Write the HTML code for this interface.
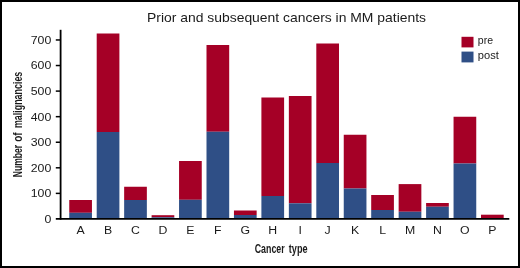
<!DOCTYPE html>
<html><head><meta charset="utf-8"><title>Prior and subsequent cancers in MM patients</title>
<style>
html,body{margin:0;padding:0;background:#fff;}
body{width:520px;height:268px;overflow:hidden;}
svg{display:block;font-family:"Liberation Sans",Arial,Helvetica,sans-serif;}
</style></head><body>
<svg width="520" height="268" viewBox="0 0 520 268">
<rect x="0" y="0" width="520" height="268" fill="#fff"/>
<rect x="1" y="1" width="518" height="266" fill="none" stroke="#000" stroke-width="2"/>
<text x="286.5" y="22.2" font-size="13" text-anchor="middle" fill="#1a1a1a" textLength="279" lengthAdjust="spacingAndGlyphs">Prior and subsequent cancers in MM patients</text>
<rect x="69.25" y="200" width="22.7" height="12.80" fill="#a50026"/><rect x="69.25" y="212.8" width="22.7" height="6.10" fill="#2f4f86"/><text transform="translate(80.60,233.7) scale(1.07,1)" font-size="11.5" text-anchor="middle" fill="#1a1a1a">A</text>
<rect x="96.70" y="33.5" width="22.7" height="98.50" fill="#a50026"/><rect x="96.70" y="132" width="22.7" height="86.90" fill="#2f4f86"/><text transform="translate(108.05,233.7) scale(1.07,1)" font-size="11.5" text-anchor="middle" fill="#1a1a1a">B</text>
<rect x="124.15" y="186.75" width="22.7" height="13.25" fill="#a50026"/><rect x="124.15" y="200" width="22.7" height="18.90" fill="#2f4f86"/><text transform="translate(135.50,233.7) scale(1.07,1)" font-size="11.5" text-anchor="middle" fill="#1a1a1a">C</text>
<rect x="151.60" y="215.2" width="22.7" height="2.10" fill="#a50026"/><rect x="151.60" y="217.3" width="22.7" height="1.60" fill="#2f4f86"/><text transform="translate(162.95,233.7) scale(1.07,1)" font-size="11.5" text-anchor="middle" fill="#1a1a1a">D</text>
<rect x="179.05" y="161" width="22.7" height="38.80" fill="#a50026"/><rect x="179.05" y="199.8" width="22.7" height="19.10" fill="#2f4f86"/><text transform="translate(190.40,233.7) scale(1.07,1)" font-size="11.5" text-anchor="middle" fill="#1a1a1a">E</text>
<rect x="206.50" y="45" width="22.7" height="86.75" fill="#a50026"/><rect x="206.50" y="131.75" width="22.7" height="87.15" fill="#2f4f86"/><text transform="translate(217.85,233.7) scale(1.07,1)" font-size="11.5" text-anchor="middle" fill="#1a1a1a">F</text>
<rect x="233.95" y="210.5" width="22.7" height="4.50" fill="#a50026"/><rect x="233.95" y="215" width="22.7" height="3.90" fill="#2f4f86"/><text transform="translate(245.30,233.7) scale(1.07,1)" font-size="11.5" text-anchor="middle" fill="#1a1a1a">G</text>
<rect x="261.40" y="97.5" width="22.7" height="98.50" fill="#a50026"/><rect x="261.40" y="196" width="22.7" height="22.90" fill="#2f4f86"/><text transform="translate(272.75,233.7) scale(1.07,1)" font-size="11.5" text-anchor="middle" fill="#1a1a1a">H</text>
<rect x="288.85" y="96" width="22.7" height="107.30" fill="#a50026"/><rect x="288.85" y="203.3" width="22.7" height="15.60" fill="#2f4f86"/><text transform="translate(300.20,233.7) scale(1.07,1)" font-size="11.5" text-anchor="middle" fill="#1a1a1a">I</text>
<rect x="316.30" y="43.5" width="22.7" height="119.50" fill="#a50026"/><rect x="316.30" y="163" width="22.7" height="55.90" fill="#2f4f86"/><text transform="translate(327.65,233.7) scale(1.07,1)" font-size="11.5" text-anchor="middle" fill="#1a1a1a">J</text>
<rect x="343.75" y="134.75" width="22.7" height="53.75" fill="#a50026"/><rect x="343.75" y="188.5" width="22.7" height="30.40" fill="#2f4f86"/><text transform="translate(355.10,233.7) scale(1.07,1)" font-size="11.5" text-anchor="middle" fill="#1a1a1a">K</text>
<rect x="371.20" y="195" width="22.7" height="15.00" fill="#a50026"/><rect x="371.20" y="210" width="22.7" height="8.90" fill="#2f4f86"/><text transform="translate(382.55,233.7) scale(1.07,1)" font-size="11.5" text-anchor="middle" fill="#1a1a1a">L</text>
<rect x="398.65" y="184.1" width="22.7" height="27.65" fill="#a50026"/><rect x="398.65" y="211.75" width="22.7" height="7.15" fill="#2f4f86"/><text transform="translate(410.00,233.7) scale(1.07,1)" font-size="11.5" text-anchor="middle" fill="#1a1a1a">M</text>
<rect x="426.10" y="203" width="22.7" height="3.75" fill="#a50026"/><rect x="426.10" y="206.75" width="22.7" height="12.15" fill="#2f4f86"/><text transform="translate(437.45,233.7) scale(1.07,1)" font-size="11.5" text-anchor="middle" fill="#1a1a1a">N</text>
<rect x="453.55" y="116.75" width="22.7" height="46.75" fill="#a50026"/><rect x="453.55" y="163.5" width="22.7" height="55.40" fill="#2f4f86"/><text transform="translate(464.90,233.7) scale(1.07,1)" font-size="11.5" text-anchor="middle" fill="#1a1a1a">O</text>
<rect x="481.00" y="214.7" width="22.7" height="3.80" fill="#a50026"/><rect x="481.00" y="218.5" width="22.7" height="0.40" fill="#2f4f86"/><text transform="translate(492.35,233.7) scale(1.07,1)" font-size="11.5" text-anchor="middle" fill="#1a1a1a">P</text>
<line x1="60.6" y1="29.8" x2="60.6" y2="219.7" stroke="#000" stroke-width="1.8"/>
<line x1="55.8" y1="218.95" x2="509.3" y2="218.95" stroke="#000" stroke-width="1.8"/>
<line x1="55.8" y1="193.38" x2="60.6" y2="193.38" stroke="#000" stroke-width="1.5"/><line x1="55.8" y1="167.81" x2="60.6" y2="167.81" stroke="#000" stroke-width="1.5"/><line x1="55.8" y1="142.24" x2="60.6" y2="142.24" stroke="#000" stroke-width="1.5"/><line x1="55.8" y1="116.67" x2="60.6" y2="116.67" stroke="#000" stroke-width="1.5"/><line x1="55.8" y1="91.10" x2="60.6" y2="91.10" stroke="#000" stroke-width="1.5"/><line x1="55.8" y1="65.53" x2="60.6" y2="65.53" stroke="#000" stroke-width="1.5"/><line x1="55.8" y1="39.96" x2="60.6" y2="39.96" stroke="#000" stroke-width="1.5"/><text x="51.3" y="222.90" font-size="11.5" text-anchor="end" fill="#1a1a1a" textLength="6.85" lengthAdjust="spacingAndGlyphs">0</text>
<text x="51.3" y="196.90" font-size="11.5" text-anchor="end" fill="#1a1a1a" textLength="20.55" lengthAdjust="spacingAndGlyphs">100</text>
<text x="51.3" y="171.50" font-size="11.5" text-anchor="end" fill="#1a1a1a" textLength="20.55" lengthAdjust="spacingAndGlyphs">200</text>
<text x="51.3" y="145.90" font-size="11.5" text-anchor="end" fill="#1a1a1a" textLength="20.55" lengthAdjust="spacingAndGlyphs">300</text>
<text x="51.3" y="120.50" font-size="11.5" text-anchor="end" fill="#1a1a1a" textLength="20.55" lengthAdjust="spacingAndGlyphs">400</text>
<text x="51.3" y="94.90" font-size="11.5" text-anchor="end" fill="#1a1a1a" textLength="20.55" lengthAdjust="spacingAndGlyphs">500</text>
<text x="51.3" y="68.80" font-size="11.5" text-anchor="end" fill="#1a1a1a" textLength="20.55" lengthAdjust="spacingAndGlyphs">600</text>
<text x="51.3" y="44.10" font-size="11.5" text-anchor="end" fill="#1a1a1a" textLength="20.55" lengthAdjust="spacingAndGlyphs">700</text>
<g font-size="12.1" fill="#1a1a1a" font-weight="bold"><text x="254.7" y="253.1" textLength="30" lengthAdjust="spacingAndGlyphs">Cancer</text><text x="288.8" y="253.1" textLength="18.8" lengthAdjust="spacingAndGlyphs">type</text></g>
<g transform="translate(22.4,177.3) rotate(-90)" font-size="13" fill="#1a1a1a" font-weight="bold"><text x="0" y="0" textLength="32.4" lengthAdjust="spacingAndGlyphs">Number</text><text x="35.6" y="0" textLength="9.4" lengthAdjust="spacingAndGlyphs">of</text><text x="49.2" y="0" textLength="56.4" lengthAdjust="spacingAndGlyphs">malignancies</text></g>
<rect x="461.5" y="36.8" width="12" height="10.6" fill="#a50026"/><rect x="461.5" y="51.6" width="12" height="10.8" fill="#2f4f86"/><text x="477.8" y="44.15" font-size="10.5" fill="#1a1a1a">pre</text><text x="477.8" y="58.9" font-size="10.5" fill="#1a1a1a" textLength="21" lengthAdjust="spacingAndGlyphs">post</text>
</svg></body></html>
